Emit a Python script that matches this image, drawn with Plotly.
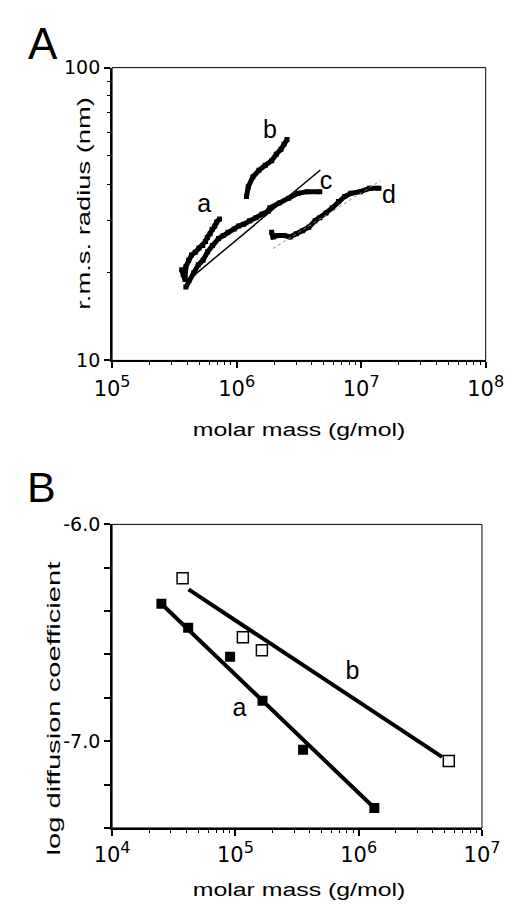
import plotly.graph_objects as go

# ---------------- Panel A data (molar mass g/mol, r.m.s. radius nm) ----------------
a_mass = [3.62e5, 3.72e5, 3.85e5, 3.91e5, 4.12e5, 4.34e5, 4.65e5, 4.98e5, 5.34e5,
          5.62e5, 5.82e5, 6.13e5, 6.35e5, 6.68e5, 6.92e5, 7.29e5]
a_radius = [20.4, 19.6, 18.9, 20.9, 22.0, 22.9, 23.4, 24.2, 24.7,
            25.5, 26.3, 27.1, 28.0, 28.8, 29.7, 30.4]

b_mass = [1.20e6, 1.24e6, 1.35e6, 1.51e6, 1.70e6, 1.91e6, 2.08e6, 2.27e6, 2.40e6, 2.54e6]
b_radius = [36.3, 39.2, 42.3, 44.6, 46.4, 48.1, 50.6, 52.6, 54.7, 56.8]

c_mass = [3.91e5, 4.14e5, 4.52e5, 4.92e5, 5.37e5, 5.85e5, 6.38e5, 7.16e5, 7.81e5,
          8.51e5, 9.55e5, 1.04e6, 1.14e6, 1.27e6, 1.43e6, 1.60e6, 1.80e6, 1.85e6,
          2.20e6, 2.62e6, 3.11e6, 3.69e6, 4.65e6]
c_radius = [17.8, 18.7, 19.9, 21.2, 22.0, 23.5, 24.7, 26.1, 26.7,
            27.4, 28.1, 28.8, 29.2, 30.0, 30.7, 31.6, 32.4, 33.2,
            34.5, 35.8, 37.2, 37.7, 37.7]

d_mass = [1.91e6, 1.96e6, 2.14e6, 2.40e6, 2.69e6, 3.02e6, 3.39e6, 3.80e6, 4.27e6,
          4.65e6, 5.22e6, 5.86e6, 6.56e6, 7.37e6, 8.27e6, 9.84e6, 1.17e7, 1.39e7]
d_radius = [27.4, 26.4, 26.7, 26.7, 26.4, 27.1, 27.7, 28.5, 30.0,
            30.7, 31.9, 33.2, 34.9, 36.3, 37.2, 37.7, 38.7, 38.7]

c_fit_mass = [3.91e5, 4.70e6]
c_fit_radius = [18.5, 44.7]
d_fit_mass = [1.96e6, 1.43e7]
d_fit_radius = [24.1, 41.1]

a_labels = ["a", "b", "c", "d"]
a_label_mass = [5.50e5, 1.85e6, 5.22e6, 1.67e7]
a_label_radius = [33.7, 60.6, 40.3, 36.3]

# ---------------- Panel B data (molar mass, log diffusion coefficient) ----------------
bA_mass = [2.51e4, 4.14e4, 9.06e4, 1.66e5, 3.54e5, 1.34e6]
bA_logD = [-6.366, -6.477, -6.611, -6.813, -7.039, -7.308]
bB_mass = [3.73e4, 1.15e5, 1.64e5, 5.38e6]
bB_logD = [-6.248, -6.520, -6.580, -7.091]

lineA_mass = [2.51e4, 1.34e6]
lineA_logD = [-6.366, -7.308]
lineB_mass = [4.17e4, 4.74e6]
lineB_logD = [-6.300, -7.072]

b_labels = ["b", "a"]
b_label_mass = [8.91e5, 1.08e5]
b_label_logD = [-6.682, -6.857]

SUP = "<sup><span style='font-size:16px'>{}</span></sup>"
A_xticks = [1e5, 1e6, 1e7, 1e8]
A_xticktext = ["10" + SUP.format(e) for e in ["5", "6", "7", "8"]]
A_yticks = [10, 100]
A_yticktext = ["10", "100"]
B_xticks = [1e4, 1e5, 1e6, 1e7]
B_xticktext = ["10" + SUP.format(e) for e in ["4", "5", "6", "7"]]
B_yticks = [-6.0, -7.0]
B_yticktext = ["-6.0", "-7.0"]

FONT = "Liberation Sans, Arial, sans-serif"
TICKFONT = "DejaVu Sans, sans-serif"
BLACK = "black"

fig = go.Figure()

# Panel A curves
for m, r in [(a_mass, a_radius), (b_mass, b_radius), (c_mass, c_radius), (d_mass, d_radius)]:
    fig.add_trace(go.Scatter(x=m, y=r, mode="lines+markers", line=dict(color=BLACK, width=5),
                             marker=dict(size=5, color=BLACK, symbol="square"),
                             xaxis="x", yaxis="y", showlegend=False))
fig.add_trace(go.Scatter(x=c_fit_mass, y=c_fit_radius, mode="lines",
                         line=dict(color=BLACK, width=1.5), xaxis="x", yaxis="y", showlegend=False))
fig.add_trace(go.Scatter(x=d_fit_mass, y=d_fit_radius, mode="lines",
                         line=dict(color="#888888", width=1, dash="dot"), xaxis="x", yaxis="y",
                         showlegend=False))
fig.add_trace(go.Scatter(x=a_label_mass, y=a_label_radius, mode="text", text=a_labels,
                         textposition="middle center",
                         textfont=dict(family=FONT, size=25, color=BLACK),
                         xaxis="x", yaxis="y", showlegend=False))

# Panel B
fig.add_trace(go.Scatter(x=lineA_mass, y=lineA_logD, mode="lines", line=dict(color=BLACK, width=4),
                         xaxis="x2", yaxis="y2", showlegend=False))
fig.add_trace(go.Scatter(x=lineB_mass, y=lineB_logD, mode="lines", line=dict(color=BLACK, width=4),
                         xaxis="x2", yaxis="y2", showlegend=False))
fig.add_trace(go.Scatter(x=bA_mass, y=bA_logD, mode="markers",
                         marker=dict(symbol="square", size=10, color=BLACK, line=dict(width=0)),
                         xaxis="x2", yaxis="y2", showlegend=False))
fig.add_trace(go.Scatter(x=bB_mass, y=bB_logD, mode="markers",
                         marker=dict(symbol="square", size=11, color="white",
                                     line=dict(color=BLACK, width=1.5)),
                         xaxis="x2", yaxis="y2", showlegend=False))
fig.add_trace(go.Scatter(x=b_label_mass, y=b_label_logD, mode="text", text=b_labels,
                         textposition="middle center",
                         textfont=dict(family=FONT, size=25, color=BLACK),
                         xaxis="x2", yaxis="y2", showlegend=False))

W, H = 527, 918
def px(v):
    return v / W
def py(v):
    return 1 - v / H

minor_log = dict(ticks="outside", ticklen=3, tickwidth=1, tickcolor=BLACK, dtick="D1", showgrid=False)
common = dict(showline=True, linecolor=BLACK, linewidth=2, ticks="outside", ticklen=6,
              tickwidth=1.5, tickcolor=BLACK, showgrid=False, zeroline=False, mirror=False)
xfont = dict(family=TICKFONT, size=21, color=BLACK)
yfont = dict(family=TICKFONT, size=19, color=BLACK)

fig.update_layout(
    width=W, height=H, margin=dict(l=0, r=0, t=0, b=0),
    font=dict(family=TICKFONT, size=19, color=BLACK),
    paper_bgcolor="white", plot_bgcolor="white", showlegend=False,
    xaxis=dict(type="log", range=[5, 8], domain=[px(101), px(502)], anchor="y",
               tickmode="array", tickvals=A_xticks, ticktext=A_xticktext,
               minor=minor_log, ticklabelstandoff=2, tickfont=xfont, **common),
    yaxis=dict(type="log", range=[1, 2], domain=[py(358), py(58)], anchor="x",
               tickmode="array", tickvals=A_yticks, ticktext=A_yticktext,
               minor=minor_log, ticklabelstandoff=0, tickfont=yfont, **common),
    xaxis2=dict(type="log", range=[4, 7], domain=[px(101), px(498)], anchor="y2",
                tickmode="array", tickvals=B_xticks, ticktext=B_xticktext,
                minor=minor_log, ticklabelstandoff=1, tickfont=xfont, **common),
    yaxis2=dict(range=[-7.4, -6.0], domain=[py(837), py(526)], anchor="x2",
                tickmode="array", tickvals=B_yticks, ticktext=B_yticktext,
                minor=dict(ticks="outside", ticklen=6, tickwidth=1.5, tickcolor=BLACK, dtick=0.2,
                           showgrid=False),
                ticklabelstandoff=0, tickfont=yfont, **common),
)

# thin top/right frame
for xr, yr in [("x domain", "y domain"), ("x2 domain", "y2 domain")]:
    fig.add_shape(type="rect", xref=xr, yref=yr, x0=0, x1=1, y0=0, y1=1,
                  line=dict(color=BLACK, width=1), layer="above")

ann = [
    dict(text="molar mass (g/mol)", x=px(302), y=py(429), size=18, angle=0, xa="center"),
    dict(text="r.m.s. radius (nm)", x=px(71), y=py(197), size=18, angle=-90, xa="center"),
    dict(text="molar mass (g/mol)", x=px(302), y=py(901), size=18, angle=0, xa="center"),
    dict(text="log diffusion coefficient", x=px(39), y=py(715), size=18, angle=-90, xa="center"),
    dict(text="A", x=px(9), y=py(33), size=44, angle=0, xa="left"),
    dict(text="B", x=px(7), y=py(488), size=43, angle=0, xa="left"),
]
for a in ann:
    fig.add_annotation(text=a["text"], x=a["x"], y=a["y"], xref="paper", yref="paper",
                       xanchor=a["xa"], yanchor="middle", textangle=a["angle"], showarrow=False,
                       font=dict(family=FONT, size=a["size"], color=BLACK))

post = """
var gd = document.getElementById('{plot_id}');
var scales = {0: 1.38, 1: 1.52, 2: 1.38, 3: 1.62};
Object.keys(scales).forEach(function(k){
  var t = gd.querySelector('.annotation[data-index="' + k + '"] text.annotation-text');
  if (t) {
    t.style.transformBox = 'fill-box';
    t.style.transformOrigin = 'center';
    t.style.transform = 'scaleX(' + scales[k] + ')';
  }
});
"""

fig.write_html("out.html", post_script=post)
